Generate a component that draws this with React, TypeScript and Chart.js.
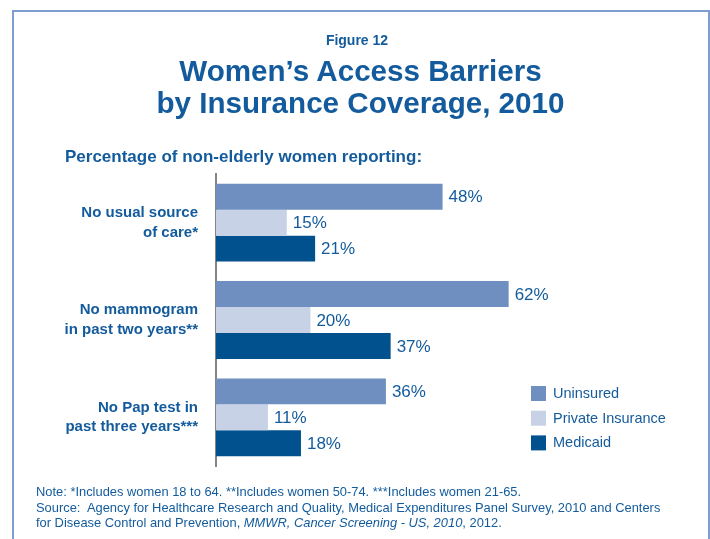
import React, { useEffect, useRef } from 'react';
import { Chart, registerables } from 'chart.js';

Chart.register(...registerables);

const categories = [
  ['No usual source', 'of care*'],
  ['No mammogram', 'in past two years**'],
  ['No Pap test in', 'past three years***'],
];
const seriesNames = ['Uninsured', 'Private Insurance', 'Medicaid'];
const uninsured = [48, 62, 36];
const privateInsurance = [15, 20, 11];
const medicaid = [21, 37, 18];
const seriesColors = ['#6e8fbf', '#c7d2e7', '#02518f'];

const TEXT = '#135b9c';
const FONT = '"Liberation Sans", Arial, Helvetica, sans-serif';

const valueLabels = {
  id: 'valueLabels',
  afterDatasetsDraw(chart: any) {
    const ctx = chart.ctx;
    ctx.save();
    ctx.font = `17px ${FONT}`;
    ctx.fillStyle = TEXT;
    ctx.textAlign = 'left';
    ctx.textBaseline = 'middle';
    chart.data.datasets.forEach((ds: any, i: number) => {
      const meta = chart.getDatasetMeta(i);
      meta.data.forEach((el: any, j: number) => {
        ctx.fillText(`${ds.data[j]}%`, el.x + 6, el.y + 1);
      });
    });
    ctx.restore();
  },
};

const boxLegend = {
  id: 'boxLegend',
  afterDraw(chart: any) {
    const ctx = chart.ctx;
    ctx.save();
    ctx.font = `14.5px ${FONT}`;
    ctx.textAlign = 'left';
    ctx.textBaseline = 'middle';
    const x0 = 531;
    const y0 = 386;
    const step = 24.7;
    chart.data.datasets.forEach((ds: any, i: number) => {
      const y = y0 + i * step;
      ctx.fillStyle = ds.backgroundColor;
      ctx.fillRect(x0, y, 15, 15);
      ctx.fillStyle = TEXT;
      ctx.fillText(ds.label, x0 + 22, y + 8);
    });
    ctx.restore();
  },
};

export default function App() {
  const ref = useRef<HTMLCanvasElement | null>(null);

  useEffect(() => {
    if (!ref.current) return;
    const chart = new Chart(ref.current, {
      type: 'bar',
      data: {
        labels: categories,
        datasets: [uninsured, privateInsurance, medicaid].map((d, i) => ({
          label: seriesNames[i],
          data: d,
          backgroundColor: seriesColors[i],
          borderWidth: 0,
          categoryPercentage: 0.8,
          barPercentage: 1.0,
        })),
      },
      options: {
        indexAxis: 'y',
        responsive: false,
        maintainAspectRatio: false,
        animation: false,
        layout: { padding: { top: 174, bottom: 73, right: 22, left: 0 } },
        plugins: {
          legend: { display: false },
          tooltip: { enabled: false },
          title: { display: false },
        },
        scales: {
          x: { display: false, min: 0, max: 100 },
          y: {
            afterFit(scale: any) {
              scale.width = 216;
            },
            grid: { display: false, drawTicks: false },
            border: { display: true, color: '#858585', width: 2 },
            ticks: {
              color: TEXT,
              padding: 18,
              font: { family: FONT, size: 15, weight: 'bold', lineHeight: 1.3 },
            },
          },
        },
      },
      plugins: [valueLabels, boxLegend],
    });
    return () => chart.destroy();
  }, []);

  const abs = (o: React.CSSProperties): React.CSSProperties => ({ position: 'absolute', margin: 0, ...o });

  return (
    <div
      style={{
        position: 'fixed',
        left: 0,
        top: 0,
        width: 710,
        height: 539,
        overflow: 'hidden',
        background: '#ffffff',
        fontFamily: FONT,
        color: TEXT,
      }}
    >
      <div
        style={abs({
          left: 12,
          top: 10,
          width: 698,
          height: 600,
          boxSizing: 'border-box',
          border: '2px solid #7e9dd0',
        })}
      />
      <canvas ref={ref} width={710} height={539} style={abs({ left: 0, top: 0, width: 710, height: 539 })} />
      <div style={abs({ left: 0, width: 714, top: 32, textAlign: 'center', fontSize: 14, lineHeight: '16px', fontWeight: 'bold' })}>
        Figure 12
      </div>
      <div style={abs({ left: 0, width: 721, top: 55, textAlign: 'center', fontSize: 29.6, lineHeight: '32px', fontWeight: 'bold' })}>
        Women’s Access Barriers
        <br />
        by Insurance Coverage, 2010
      </div>
      <div style={abs({ left: 65, top: 147, fontSize: 17, lineHeight: '20px', fontWeight: 'bold' })}>
        Percentage of non-elderly women reporting:
      </div>
      <div style={abs({ left: 36, top: 484, fontSize: 12.9, lineHeight: '15.5px', whiteSpace: 'nowrap' })}>
        Note: *Includes women 18 to 64. **Includes women 50-74. ***Includes women 21-65.
        <br />
        Source:&nbsp; Agency for Healthcare Research and Quality, Medical Expenditures Panel Survey, 2010 and Centers
        <br />
        for Disease Control and Prevention, <i>MMWR, Cancer Screening - US, 2010</i>, 2012.
      </div>
    </div>
  );
}
